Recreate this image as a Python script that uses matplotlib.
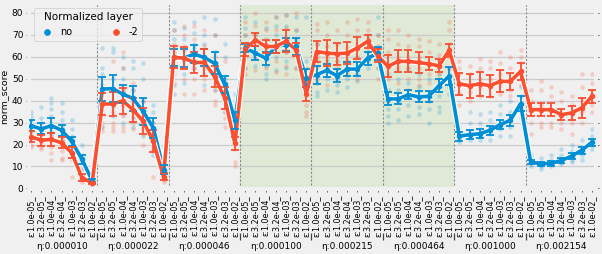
#!/usr/bin/env python3
"""norm_score per (eta, epsilon), with and without the normalized layer."""

import matplotlib
matplotlib.use("Agg")
import matplotlib.pyplot as plt
import matplotlib.patheffects as pe
import numpy as np

ETAS = ["0.000010", "0.000022", "0.000046", "0.000100",
        "0.000215", "0.000464", "0.001000", "0.002154"]
EPSILONS = ["1.0e-05", "3.2e-05", "1.0e-04", "3.2e-04",
            "1.0e-03", "3.2e-03", "1.0e-02"]
SHADED_ETAS = ["0.000100", "0.000215", "0.000464"]

# mean norm_score, one value per (eta, epsilon), eta-major
mean_no = [28.6, 27.1, 28.6, 26.5, 21.5, 13.3, 3.5,
           45.3, 45.5, 43.0, 41.0, 35.1, 27.6, 8.6,
           59.7, 59.4, 61.2, 59.7, 57.0, 47.4, 31.0,
           64.0, 61.7, 59.4, 64.7, 65.5, 64.7, 50.3,
           51.8, 53.8, 51.4, 54.4, 54.4, 59.4, 61.5,
           40.8, 40.8, 42.7, 41.7, 42.0, 46.8, 51.2,
           23.8, 24.5, 24.9, 26.5, 29.1, 31.0, 38.6,
           12.0, 11.2, 11.4, 12.7, 14.7, 17.4, 21.0]
err_no = [2.5, 2.5, 3.5, 2.5, 2.0, 2.0, 1.0,
          5.5, 6.0, 4.0, 5.5, 6.0, 4.5, 2.0,
          4.0, 4.0, 4.0, 4.0, 5.0, 4.0, 4.0,
          2.0, 3.0, 3.0, 3.0, 3.0, 4.0, 4.0,
          4.0, 3.0, 3.0, 3.0, 3.0, 3.0, 3.0,
          3.0, 2.5, 2.0, 2.5, 2.5, 3.0, 4.0,
          2.0, 2.0, 2.0, 2.0, 2.0, 2.5, 3.5,
          1.0, 1.0, 1.0, 1.0, 1.5, 1.5, 1.5]
mean_m2 = [23.5, 22.0, 22.3, 20.8, 16.2, 4.9, 2.5,
           38.5, 38.5, 39.9, 35.9, 30.6, 21.5, 5.3,
           59.7, 59.4, 57.4, 57.4, 51.0, 41.2, 20.5,
           63.5, 67.7, 64.7, 64.7, 67.0, 63.2, 43.0,
           62.4, 61.7, 61.4, 61.7, 64.0, 67.0, 60.5,
           55.6, 57.9, 57.9, 57.4, 56.8, 55.9, 62.9,
           47.7, 46.8, 47.7, 46.8, 48.8, 48.8, 53.3,
           35.9, 35.9, 35.9, 33.6, 34.4, 36.7, 42.0]
err_m2 = [2.5, 2.5, 3.0, 2.5, 2.5, 1.5, 0.5,
          5.0, 5.5, 6.0, 5.5, 6.0, 5.0, 1.5,
          5.0, 5.0, 5.0, 6.0, 5.0, 5.0, 3.0,
          3.0, 3.0, 3.0, 3.0, 5.0, 3.0, 3.0,
          5.0, 6.0, 5.0, 5.0, 5.0, 3.0, 3.0,
          5.0, 5.0, 5.0, 5.0, 3.0, 3.0, 3.0,
          5.0, 5.5, 5.5, 5.0, 5.0, 4.0, 4.0,
          3.0, 3.0, 3.0, 2.5, 3.0, 4.5, 3.0]

# individual runs
runs_no = [
    [35, 33, 31, 29, 27, 25], [37, 32, 30, 27, 25], [41, 39, 36, 33, 30, 25, 22],
    [39, 35, 31, 28, 25, 22], [31, 27, 24, 20, 17], [20, 15, 12, 9, 6], [4, 3, 2],
    [64, 55, 52, 45, 40, 35, 28], [64, 62, 50, 45, 37, 33], [60, 55, 50, 45, 38, 34, 30],
    [58, 55, 45, 40, 35, 32, 28], [57, 50, 40, 33, 28, 24], [38, 35, 30, 25, 20, 15],
    [19, 12, 8, 5],
    [76, 72, 68, 65, 55, 47, 43], [73, 68, 63, 58, 52, 48], [76, 71, 66, 64, 58, 55],
    [78, 70, 66, 60, 52, 47], [77, 70, 62, 55, 48, 45], [66, 60, 50, 45, 40, 35],
    [43, 38, 30, 27, 25],
    [78, 73, 70, 64, 60, 55], [76, 70, 66, 60, 56], [73, 68, 62, 56, 52, 50],
    [78, 74, 70, 65, 60, 54], [79, 74, 68, 62, 58, 55], [78, 72, 68, 62, 55],
    [78, 58, 52, 48, 45, 43],
    [66, 58, 52, 48, 44, 42], [62, 58, 54, 50, 45], [58, 54, 50, 47, 44],
    [62, 58, 55, 50, 46], [65, 60, 56, 52, 49], [70, 66, 62, 58, 55], [78, 70, 64, 60, 55],
    [52, 45, 40, 36, 33, 30], [50, 45, 40, 36, 31], [55, 48, 42, 38, 33],
    [52, 46, 42, 37, 34], [50, 44, 40, 36, 30], [58, 52, 46, 42, 37, 35],
    [60, 55, 50, 46, 43],
    [28, 25, 23, 22, 21], [35, 30, 26, 24, 22], [34, 30, 27, 24, 22],
    [35, 31, 28, 25, 22], [38, 34, 30, 27, 24], [40, 35, 32, 28, 24], [46, 42, 38, 35, 32],
    [15, 13, 12, 11, 10], [14, 12, 11, 10, 9], [15, 13, 11, 10], [18, 15, 13, 12, 11],
    [20, 17, 15, 13, 12], [22, 19, 17, 15, 13], [27, 24, 22, 20, 18],
]
runs_m2 = [
    [26, 24, 22, 20, 19], [25, 23, 21, 19, 18], [26, 24, 22, 19, 16, 13],
    [24, 22, 20, 17, 14, 13], [20, 17, 15, 13, 5], [9, 6, 5, 4, 3], [3, 2.5, 2],
    [47, 40, 37, 33, 30, 28, 26], [58, 45, 40, 35, 30, 28, 26], [62, 55, 45, 38, 33, 28, 26],
    [48, 45, 38, 33, 30, 27], [40, 35, 30, 27, 25, 20], [30, 25, 20, 17, 5], [9, 6, 4, 3],
    [72, 66, 62, 58, 52, 48], [74, 70, 65, 60, 50, 43], [74, 68, 62, 55, 50, 43],
    [72, 65, 58, 55, 50, 45], [70, 60, 52, 45, 40, 38], [58, 48, 40, 35, 32, 28],
    [30, 25, 18, 12, 10],
    [76, 70, 66, 60, 55, 52], [80, 74, 70, 66, 60, 54], [76, 72, 66, 60, 55],
    [78, 72, 65, 58, 53], [79, 73, 68, 62, 56, 52], [80, 72, 66, 60, 55],
    [55, 50, 44, 38, 35, 33],
    [75, 72, 66, 60, 56, 50], [76, 70, 65, 60, 55, 47], [72, 66, 62, 58, 55],
    [76, 70, 64, 58, 52], [77, 72, 66, 60, 55, 50], [76, 72, 68, 64, 60], [70, 65, 60, 55, 50],
    [72, 68, 62, 56, 50, 45], [72, 66, 60, 55, 48], [70, 65, 60, 55, 50, 45],
    [68, 65, 60, 55, 50, 47], [67, 62, 57, 52, 48], [66, 61, 56, 52, 50], [76, 72, 66, 60, 55],
    [58, 55, 52, 48, 44, 38], [56, 52, 48, 44, 40], [59, 55, 50, 46, 42],
    [58, 55, 50, 46, 42], [62, 57, 52, 47, 43], [60, 55, 50, 45, 42], [63, 60, 57, 52, 47],
    [45, 40, 36, 30, 25], [49, 45, 38, 30, 28], [46, 42, 36, 30, 28], [44, 40, 35, 30, 27],
    [42, 38, 34, 30, 25], [52, 46, 40, 35, 30], [52, 48, 43, 38, 35],
]

BLUE = "#008fd5"
RED = "#fc4f30"


def main() -> None:
    plt.style.use("fivethirtyeight")
    plt.rcParams["font.family"] = ["DejaVu Sans"]

    n_eps = len(EPSILONS)
    n = len(ETAS) * n_eps
    x = np.arange(n)

    fig = plt.figure(figsize=(6.02, 2.54), dpi=100, facecolor="#f0f0f0")
    ax = fig.add_axes([0.048, 0.254, 0.942, 0.734])
    ax.set_facecolor("#f0f0f0")

    for g, eta in enumerate(ETAS):
        if eta in SHADED_ETAS:
            ax.axvspan(g * n_eps - 0.5, (g + 1) * n_eps - 0.5,
                       color="#dfe9d5", zorder=0, lw=0)
        if g > 0:
            ax.axvline(g * n_eps - 0.5, color="#8a8a8a", ls=(0, (2, 1.5)),
                       lw=0.8, zorder=1)

    for runs, color in ((runs_no, BLUE), (runs_m2, RED)):
        xs = [i for i, r in enumerate(runs) for _ in r]
        ys = [v for r in runs for v in r]
        ax.scatter(xs, ys, s=11, color=color, alpha=0.22, lw=0, zorder=2)

    outline = [pe.Stroke(linewidth=4.2, foreground="white"), pe.Normal()]
    for means, errs, color, label in ((mean_no, err_no, BLUE, "no"),
                                      (mean_m2, err_m2, RED, "-2")):
        ax.plot(x, means, color=color, lw=2.6, zorder=3, path_effects=outline)
        ax.errorbar(x, means, yerr=errs, fmt="o", color=color, ms=3,
                    elinewidth=1.3, capsize=2.6, capthick=1.3, zorder=4)
        ax.scatter([], [], s=18, color=color, label=label)

    ax.set_xlim(-0.2, n - 0.6)
    ax.set_ylim(-0.5, 84.5)
    ax.set_yticks(range(0, 81, 10))
    ax.set_xticks(x)
    ax.set_xticklabels([f"ε:{e}_" for _ in ETAS for e in EPSILONS],
                       rotation=90, fontsize=5.8)
    ax.tick_params(axis="y", labelsize=6.5, left=True, right=True,
                   length=2.5, width=0.6, color="#444444", pad=1.5)
    ax.tick_params(axis="x", bottom=True, length=2.5, width=0.6,
                   color="#444444", pad=1.5)
    ax.grid(True, axis="y", color="#cbcbcb", lw=0.9)
    ax.grid(False, axis="x")
    ax.set_ylabel("norm_score", fontsize=6.8, labelpad=2.5)

    sec = ax.secondary_xaxis(-0.234)
    sec.set_xticks([g * n_eps - 0.5 for g in range(1, len(ETAS))])
    sec.set_xticklabels([])
    sec.set_xticks([g * n_eps + (n_eps - 1) / 2 for g in range(len(ETAS))],
                   labels=[f"η:{e}" for e in ETAS], minor=True)
    sec.tick_params(which="major", length=5, width=0.9, color="#444444",
                    direction="out")
    sec.tick_params(which="minor", length=0, labelsize=6.5, pad=6.5)
    for sp in sec.spines.values():
        sp.set_visible(False)

    leg = ax.legend(title="Normalized layer", ncol=2, loc="upper left",
                    fontsize=7, title_fontsize=7.5, frameon=True,
                    handletextpad=0.3, columnspacing=3.5,
                    borderpad=0.4, bbox_to_anchor=(0.0, 1.0))
    leg.get_frame().set_facecolor("#f0f0f0")
    leg.get_frame().set_edgecolor("#cccccc")
    leg.get_frame().set_linewidth(0.6)

    fig.savefig("out.png", dpi=100, facecolor="#f0f0f0")
    plt.close(fig)


if __name__ == "__main__":
    main()
